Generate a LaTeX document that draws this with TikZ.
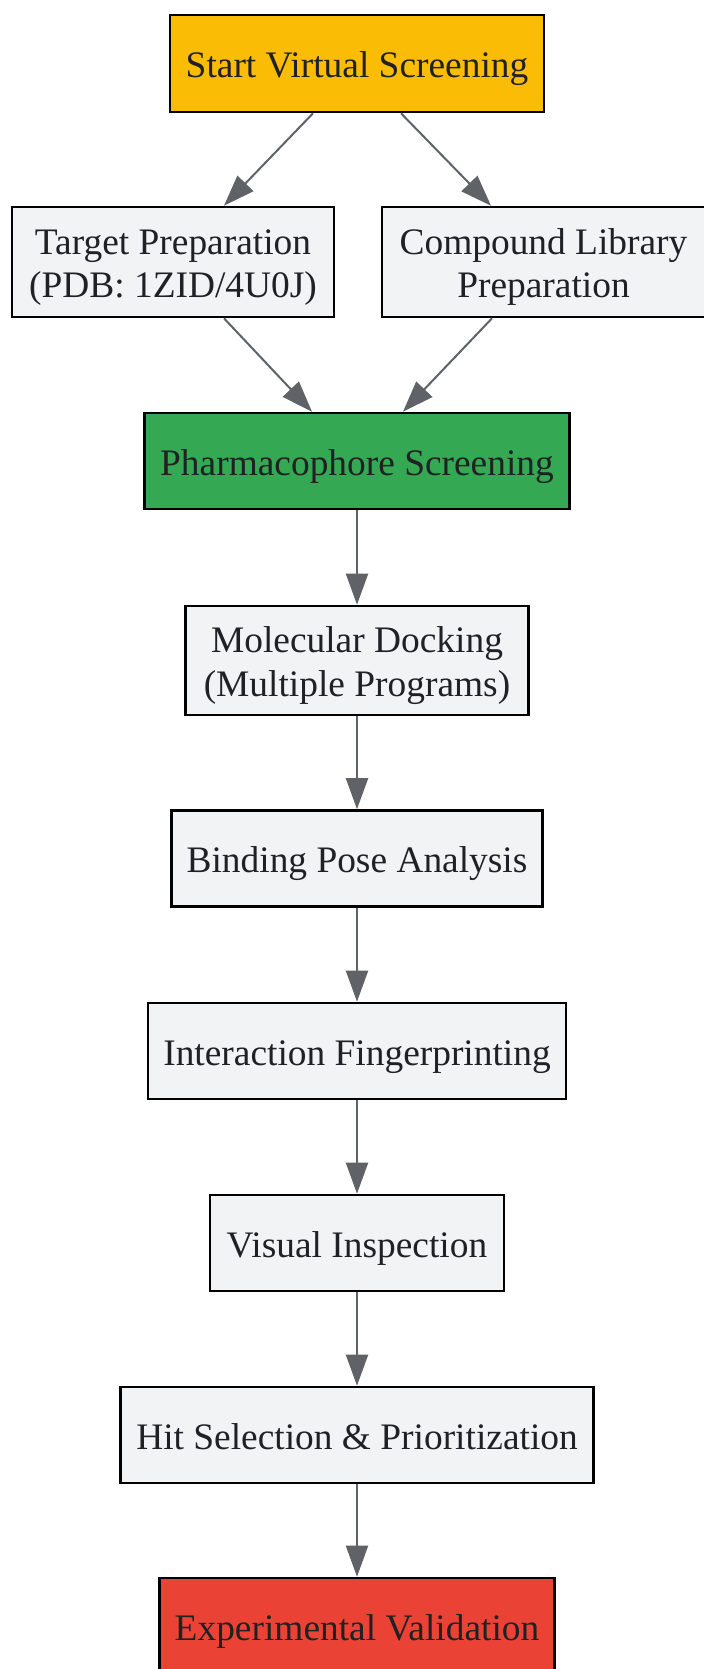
\documentclass[tikz,border=0pt]{standalone}
\usepackage{fontspec}
\setmainfont{Liberation Serif}
\usetikzlibrary{arrows.meta,calc}
\definecolor{cyellow}{HTML}{FBBC05}
\definecolor{cgreen}{HTML}{34A853}
\definecolor{cred}{HTML}{EA4335}
\definecolor{cgray}{HTML}{F1F3F4}
\definecolor{carrow}{HTML}{5F6368}
\definecolor{ctext}{HTML}{202124}
\newcommand\boxtext[1]{\raisebox{-2.7pt}[\height][\depth]{\begin{tabular}{@{}c@{}}#1\end{tabular}}}
\tikzset{
  box/.style={draw=black, line width=1.3pt, fill=cgray, inner sep=0pt,
    text=ctext, font=\fontsize{18.7}{21.8}\selectfont},
  conn/.style={draw=carrow, line width=1pt, -{Triangle[length=15.5pt,width=11pt]}}
}
\begin{document}
\begin{tikzpicture}[x=0.5pt,y=-0.5pt]
\path[use as bounding box, fill=white] (0,0) rectangle (703,1669);
\node[box, fill=cyellow, minimum width=187pt, minimum height=48.5pt] (start) at (357,63.5) {\boxtext{Start Virtual Screening}};
\node[box, minimum width=161pt, minimum height=55pt] (target) at (173,262) {\boxtext{Target Preparation\\(PDB: 1ZID/4U0J)}};
\node[box, minimum width=161.5pt, minimum height=55pt] (lib) at (543.5,262) {\boxtext{Compound Library\\Preparation}};
\node[box, fill=cgreen, minimum width=212.5pt, minimum height=48pt] (pharm) at (357,461) {\boxtext{Pharmacophore Screening}};
\node[box, minimum width=171.5pt, minimum height=54.5pt] (dock) at (357,660.5) {\boxtext{Molecular Docking\\(Multiple Programs)}};
\node[box, minimum width=185.5pt, minimum height=48pt] (pose) at (357,858.5) {\boxtext{Binding Pose Analysis}};
\node[box, minimum width=209pt, minimum height=48pt] (fing) at (357,1051) {\boxtext{Interaction Fingerprinting}};
\node[box, minimum width=147pt, minimum height=48pt] (vis) at (357,1243) {\boxtext{Visual Inspection}};
\node[box, minimum width=236.5pt, minimum height=48pt] (hit) at (357,1435) {\boxtext{Hit Selection \& Prioritization}};
\node[box, fill=cred, minimum width=197.5pt, minimum height=48pt] (exp) at (357,1626) {\boxtext{Experimental Validation}};

\draw[conn] ($(start.south)+(-44,0)$) -- ($(target.north)+(51,0)$);
\draw[conn] ($(start.south)+(44,0)$) -- ($(lib.north)+(-52.5,0)$);
\draw[conn] ($(target.south)+(51,0)$) -- ($(pharm.north)+(-45,0)$);
\draw[conn] ($(lib.south)+(-51.5,0)$) -- ($(pharm.north)+(46,0)$);
\draw[conn] (pharm) -- (dock);
\draw[conn] (dock) -- (pose);
\draw[conn] (pose) -- (fing);
\draw[conn] (fing) -- (vis);
\draw[conn] (vis) -- (hit);
\draw[conn] (hit) -- (exp);
\end{tikzpicture}
\end{document}
